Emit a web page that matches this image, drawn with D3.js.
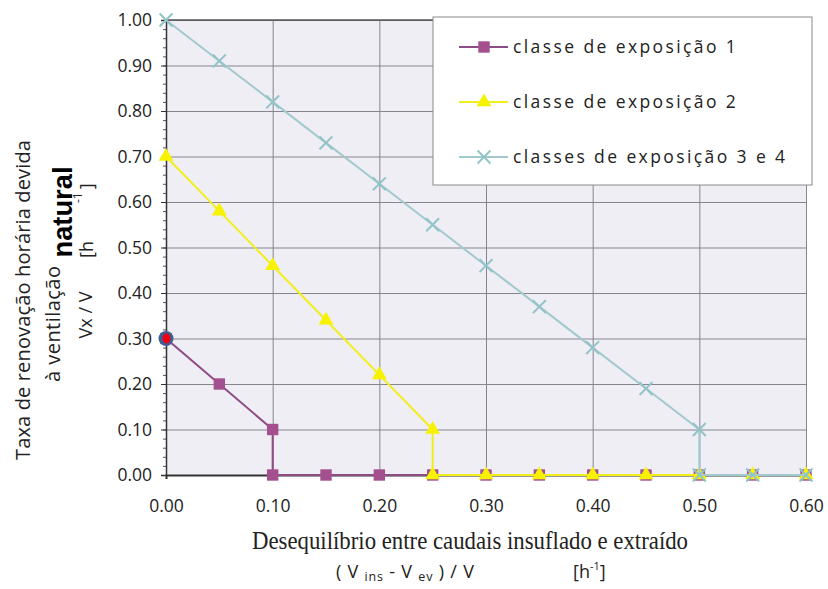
<!DOCTYPE html>
<html>
<head>
<meta charset="utf-8">
<script src="https://cdn.jsdelivr.net/npm/d3@7"></script>
<style>
  body { margin: 0; background: #fff; }
  svg { display: block; }
</style>
</head>
<body>
<svg id="chart" width="828" height="589"></svg>
<script>
const SVG_WIDTH = 828;
const SVG_HEIGHT = 589;
const margin = { top: 20, right: 22, bottom: 114, left: 166 };

// data
const xTicks = [0, 0.1, 0.2, 0.3, 0.4, 0.5, 0.6];
const yTicks = [0, 0.1, 0.2, 0.3, 0.4, 0.5, 0.6, 0.7, 0.8, 0.9, 1.0];

const class1X = [0, 0.05, 0.10, 0.10, 0.15, 0.20, 0.25, 0.30, 0.35, 0.40, 0.45, 0.50, 0.55, 0.60];
const class1Y = [0.30, 0.20, 0.10, 0, 0, 0, 0, 0, 0, 0, 0, 0, 0, 0];
const class2X = [0, 0.05, 0.10, 0.15, 0.20, 0.25, 0.25, 0.30, 0.35, 0.40, 0.45, 0.50, 0.55, 0.60];
const class2Y = [0.70, 0.58, 0.46, 0.34, 0.22, 0.10, 0, 0, 0, 0, 0, 0, 0, 0];
const class3X = [0, 0.05, 0.10, 0.15, 0.20, 0.25, 0.30, 0.35, 0.40, 0.45, 0.50, 0.50, 0.55, 0.60];
const class3Y = [1.00, 0.91, 0.82, 0.73, 0.64, 0.55, 0.46, 0.37, 0.28, 0.19, 0.10, 0, 0, 0];
const highlightPoint = [0, 0.30];

const seriesNames = ['classe de exposição 1', 'classe de exposição 2', 'classes de exposição 3 e 4'];

const series = [
  { name: seriesNames[0], xs: class1X, ys: class1Y, line: '#8e4c84', fill: '#a4508f', symbol: 'square' },
  { name: seriesNames[1], xs: class2X, ys: class2Y, line: '#f2ee1c', fill: '#f7f200', symbol: 'triangle' },
  { name: seriesNames[2], xs: class3X, ys: class3Y, line: '#a2c9cc', fill: '#91c4c9', symbol: 'cross' }
];

const width = SVG_WIDTH - margin.left - margin.right;
const height = SVG_HEIGHT - margin.top - margin.bottom;

const svg = d3.select('#chart');
const g = svg.append('g').attr('transform', `translate(${margin.left},${margin.top})`);

const xScale = d3.scaleLinear().domain([0, 0.6]).range([0, width]);
const yScale = d3.scaleLinear().domain([0, 1]).range([height, 0]);

// plot background
g.append('rect')
  .attr('width', width)
  .attr('height', height)
  .attr('fill', '#efeef4');

// grid
g.append('g')
  .attr('class', 'grid')
  .call(d3.axisLeft(yScale).tickValues(yTicks).tickSize(-width).tickFormat(''))
  .call(s => s.select('.domain').remove())
  .selectAll('line').attr('stroke', '#85858e').attr('stroke-width', 1);

g.append('g')
  .attr('class', 'grid')
  .call(d3.axisBottom(xScale).tickValues(xTicks).tickSize(height).tickFormat(''))
  .call(s => s.select('.domain').remove())
  .selectAll('line').attr('stroke', '#85858e').attr('stroke-width', 1);

// minor ticks on the y axis
g.append('g')
  .call(d3.axisLeft(yScale).tickValues(d3.range(0, 51).map(i => i / 50)).tickSize(3).tickFormat(''))
  .call(s => s.select('.domain').remove())
  .selectAll('line').attr('stroke', '#555');

// y axis
const yAxis = g.append('g')
  .call(d3.axisLeft(yScale).tickValues(yTicks).tickSize(5).tickPadding(9).tickFormat(d3.format('.2f')));
yAxis.select('.domain').attr('stroke', '#333').attr('stroke-width', 1.5);
yAxis.selectAll('line').attr('stroke', '#333');
yAxis.selectAll('text')
  .attr('font-family', '"Open Sans", sans-serif')
  .attr('font-size', 17.5)
  .attr('fill', '#222');

// x axis
const xAxis = g.append('g')
  .attr('transform', `translate(0,${height})`)
  .call(d3.axisBottom(xScale).tickValues(xTicks).tickSize(4).tickPadding(21).tickFormat(d3.format('.2f')));
xAxis.select('.domain').attr('stroke', '#333').attr('stroke-width', 2);
xAxis.selectAll('line').attr('stroke', '#333');
xAxis.selectAll('text')
  .attr('font-family', '"Open Sans", sans-serif')
  .attr('font-size', 17.5)
  .attr('fill', '#222');

// top border
g.append('line')
  .attr('x1', 0).attr('x2', width)
  .attr('y1', 0).attr('y2', 0)
  .attr('stroke', '#555').attr('stroke-width', 1.5);

const symbolFor = name => {
  if (name === 'square') return d3.symbol().type(d3.symbolSquare).size(130)();
  if (name === 'triangle') return d3.symbol().type(d3.symbolTriangle).size(95)();
  return d3.symbol().type(d3.symbolX).size(110)();
};

const line = d3.line().x(d => xScale(d[0])).y(d => yScale(d[1]));

series.forEach(s => {
  const pts = s.xs.map((x, i) => [x, s.ys[i]]);
  g.append('path')
    .datum(pts)
    .attr('fill', 'none')
    .attr('stroke', s.line)
    .attr('stroke-width', 2)
    .attr('d', line);

  g.selectAll(null)
    .data(pts)
    .enter()
    .append('path')
    .attr('transform', d => `translate(${xScale(d[0])},${yScale(d[1])})`)
    .attr('d', symbolFor(s.symbol))
    .attr('fill', s.symbol === 'cross' ? 'none' : s.fill)
    .attr('stroke', s.symbol === 'cross' ? s.fill : 'none')
    .attr('stroke-width', 2);
});

// highlighted starting point
g.append('circle')
  .attr('cx', xScale(highlightPoint[0]))
  .attr('cy', yScale(highlightPoint[1]))
  .attr('r', 7.5)
  .attr('fill', '#3f5f92');
g.append('ellipse')
  .attr('cx', xScale(highlightPoint[0]) + 0.5)
  .attr('cy', yScale(highlightPoint[1]))
  .attr('rx', 4)
  .attr('ry', 5)
  .attr('fill', '#f00010');

// legend
const legend = svg.append('g').attr('transform', 'translate(433,17)');
legend.append('rect')
  .attr('width', 379)
  .attr('height', 168)
  .attr('fill', '#fff')
  .attr('stroke', '#8a8a8a');

series.forEach((s, i) => {
  const row = legend.append('g').attr('transform', `translate(0,${30 + i * 55})`);
  row.append('line')
    .attr('x1', 26).attr('x2', 75)
    .attr('stroke', s.line).attr('stroke-width', 2);
  row.append('path')
    .attr('transform', 'translate(51,0)')
    .attr('d', symbolFor(s.symbol))
    .attr('fill', s.symbol === 'cross' ? 'none' : s.fill)
    .attr('stroke', s.symbol === 'cross' ? s.fill : 'none')
    .attr('stroke-width', 2);
  row.append('text')
    .attr('x', 80)
    .attr('dy', '0.35em')
    .attr('font-family', '"Open Sans", sans-serif')
    .attr('font-size', 17.5)
    .attr('letter-spacing', 2.4)
    .attr('fill', '#222')
    .text(s.name);
});

// x title
svg.append('text')
  .attr('x', 470)
  .attr('y', 549)
  .attr('text-anchor', 'middle')
  .attr('font-family', '"Liberation Serif", serif')
  .attr('font-size', 25)
  .attr('textLength', 436)
  .attr('lengthAdjust', 'spacingAndGlyphs')
  .attr('fill', '#222')
  .text('Desequilíbrio entre caudais insuflado e extraído');

const sub = svg.append('text')
  .attr('x', 336)
  .attr('y', 578)
  .attr('font-family', '"Open Sans", sans-serif')
  .attr('font-size', 18)
  .attr('letter-spacing', 0.8)
  .attr('fill', '#222');
sub.append('tspan').text('( V ');
sub.append('tspan').attr('font-size', 12.5).attr('dy', 3).text('ins');
sub.append('tspan').attr('dy', -3).text('  -  V ');
sub.append('tspan').attr('font-size', 12.5).attr('dy', 3).text('ev');
sub.append('tspan').attr('dy', -3).text('  ) / V');

const unit = svg.append('text')
  .attr('x', 573)
  .attr('y', 578)
  .attr('font-family', '"Open Sans", sans-serif')
  .attr('font-size', 18)
  .attr('fill', '#222');
unit.append('tspan').text('[h');
unit.append('tspan').attr('font-size', 11).attr('dy', -8).text('-1');
unit.append('tspan').attr('dy', 8).text(']');

// y title
const yTitle = (x, y, txt, size, weight, family) => svg.append('text')
  .attr('transform', `translate(${x},${y}) rotate(-90)`)
  .attr('text-anchor', 'middle')
  .attr('dy', '0.35em')
  .attr('font-family', family || '"Open Sans", sans-serif')
  .attr('font-size', size)
  .attr('font-weight', weight || 'normal')
  .attr('fill', '#222')
  .text(txt);

yTitle(23, 300, 'Taxa de renovação horária devida', 20).attr('textLength', 320);
yTitle(53, 324, 'à ventilação', 20).attr('textLength', 116);
yTitle(63, 212, 'natural', 27, 'bold', '"Liberation Sans", Arial, sans-serif')
  .attr('fill', '#000').attr('textLength', 91).attr('lengthAdjust', 'spacingAndGlyphs');
yTitle(86, 315, 'Vx / V', 18);

const hUnit = svg.append('text')
  .attr('transform', 'translate(93,258) rotate(-90)')
  .attr('font-family', '"Open Sans", sans-serif')
  .attr('font-size', 18)
  .attr('fill', '#222');
hUnit.append('tspan').text('[h');
hUnit.append('tspan').attr('font-size', 12).attr('dy', -11).attr('dx', 38).text('-1');
hUnit.append('tspan').attr('dy', 11).attr('dx', 3).text(']');
</script>
</body>
</html>
